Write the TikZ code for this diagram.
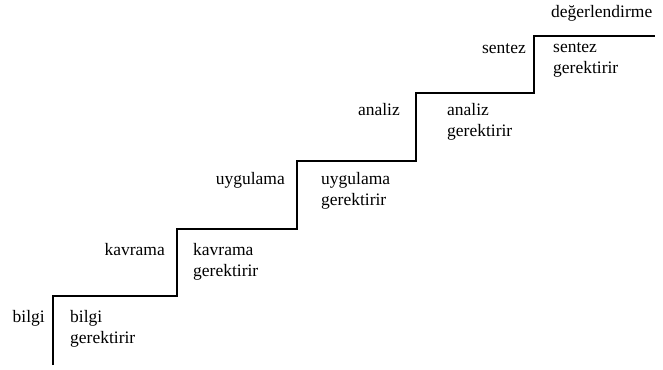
\documentclass[tikz,border=0pt]{standalone}
\usepackage{fontspec}
\setmainfont{Liberation Serif}
\begin{document}
\begin{tikzpicture}[x=1pt,y=-1pt,
  lbl/.style={inner sep=0pt,font=\fontsize{17.5}{21}\selectfont,align=left},
  stair/.style={line width=1.3pt,line join=miter}]
\useasboundingbox (0,0) rectangle (663,369);
% staircase corners
\coordinate (s0) at (53,365);
\coordinate (a1) at (53,296);
\coordinate (b1) at (177,296);
\coordinate (a2) at (177,229);
\coordinate (b2) at (297,229);
\coordinate (a3) at (297,161);
\coordinate (b3) at (416,161);
\coordinate (a4) at (416,93);
\coordinate (b4) at (534,93);
\coordinate (a5) at (534,36);
\coordinate (e5) at (655,36);
\draw[stair] (s0) -- (a1) -- (b1) -- (a2) -- (b2) -- (a3) -- (b3) -- (a4) -- (b4) -- (a5) -- (e5);
% left labels (single line, baseline anchored)
\node[lbl,anchor=base east] (l1) at (45,322) {bilgi};
\node[lbl,anchor=base east] (l2) at (165,255) {kavrama};
\node[lbl,anchor=base east] (l3) at (285,184) {uygulama};
\node[lbl,anchor=base east] (l4) at (400,115) {analiz};
\node[lbl,anchor=base east] (l5) at (526,53) {sentez};
\node[lbl,anchor=base west] (l6) at (551,18) {değerlendirme};
% right labels (anchored at the baseline of their last line)
\node[lbl,anchor=base west] (r1) at (70,343) {bilgi\\gerektirir};
\node[lbl,anchor=base west] (r2) at (193,276) {kavrama\\gerektirir};
\node[lbl,anchor=base west] (r3) at (321,205) {uygulama\\gerektirir};
\node[lbl,anchor=base west] (r4) at (447,136) {analiz\\gerektirir};
\node[lbl,anchor=base west] (r5) at (553,74) {sentez\\gerektirir};
\end{tikzpicture}
\end{document}
